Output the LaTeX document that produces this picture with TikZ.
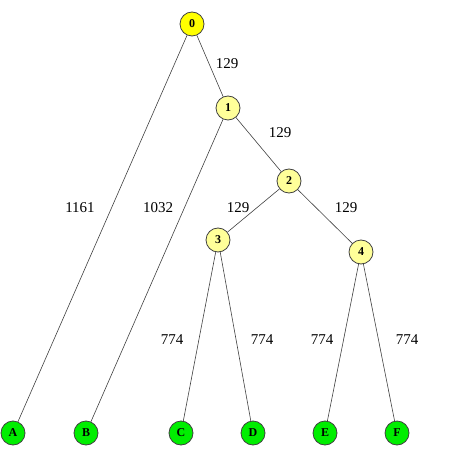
\documentclass[tikz,border=0pt]{standalone}
\usepackage{fontspec}
\setmainfont{Liberation Serif}
\usepackage{tikz}
\usetikzlibrary{positioning}
\definecolor{rootyellow}{RGB}{255,255,0}
\definecolor{paleyellow}{RGB}{255,255,153}
\definecolor{leafgreen}{RGB}{0,238,0}
\definecolor{rimgray}{RGB}{64,64,64}

\begin{document}
\begin{tikzpicture}[
  x=1pt, y=-1pt,
  vertex/.style={circle, draw=rimgray, line width=0.8pt, minimum size=24pt, inner sep=0pt, font=\fontsize{12}{12}\selectfont\bfseries},
  root/.style={vertex, fill=rootyellow},
  inner/.style={vertex, fill=paleyellow},
  leaf/.style={vertex, fill=leafgreen},
  branch/.style={draw=black!75, line width=0.6pt},
  weight/.style={font=\fontsize{15}{15}\selectfont, inner sep=0pt}
]
  \useasboundingbox (0,0) rectangle (458,470);

  \node[root] (n0) at (192,24) {0};
  \node[inner] (n1) at (228,108) {1};
  \node[inner] (n2) at (289,181) {2};
  \node[inner] (n3) at (218,240) {3};
  \node[inner] (n4) at (361,252) {4};
  \node[leaf] (lA) at (13,433) {A};
  \node[leaf] (lB) at (86,433) {B};
  \node[leaf] (lC) at (181,433) {C};
  \node[leaf] (lD) at (253,433) {D};
  \node[leaf] (lE) at (325,433) {E};
  \node[leaf] (lF) at (397,433) {F};

  \draw[branch] (n0) -- (n1);
  \draw[branch] (n0) -- (lA);
  \draw[branch] (n1) -- (n2);
  \draw[branch] (n1) -- (lB);
  \draw[branch] (n2) -- (n3);
  \draw[branch] (n2) -- (n4);
  \draw[branch] (n3) -- (lC);
  \draw[branch] (n3) -- (lD);
  \draw[branch] (n4) -- (lE);
  \draw[branch] (n4) -- (lF);

  % branch lengths
  \node[weight] (w01) at (227,64) {129};
  \node[weight] (w12) at (280,133) {129};
  \node[weight] (w0A) at (80,208) {1161};
  \node[weight] (w1B) at (158,208) {1032};
  \node[weight] (w23) at (238,208) {129};
  \node[weight] (w24) at (346,208) {129};
  \node[weight] (w3C) at (172,340) {774};
  \node[weight] (w3D) at (262,340) {774};
  \node[weight] (w4E) at (322,340) {774};
  \node[weight] (w4F) at (407,340) {774};
\end{tikzpicture}
\end{document}
